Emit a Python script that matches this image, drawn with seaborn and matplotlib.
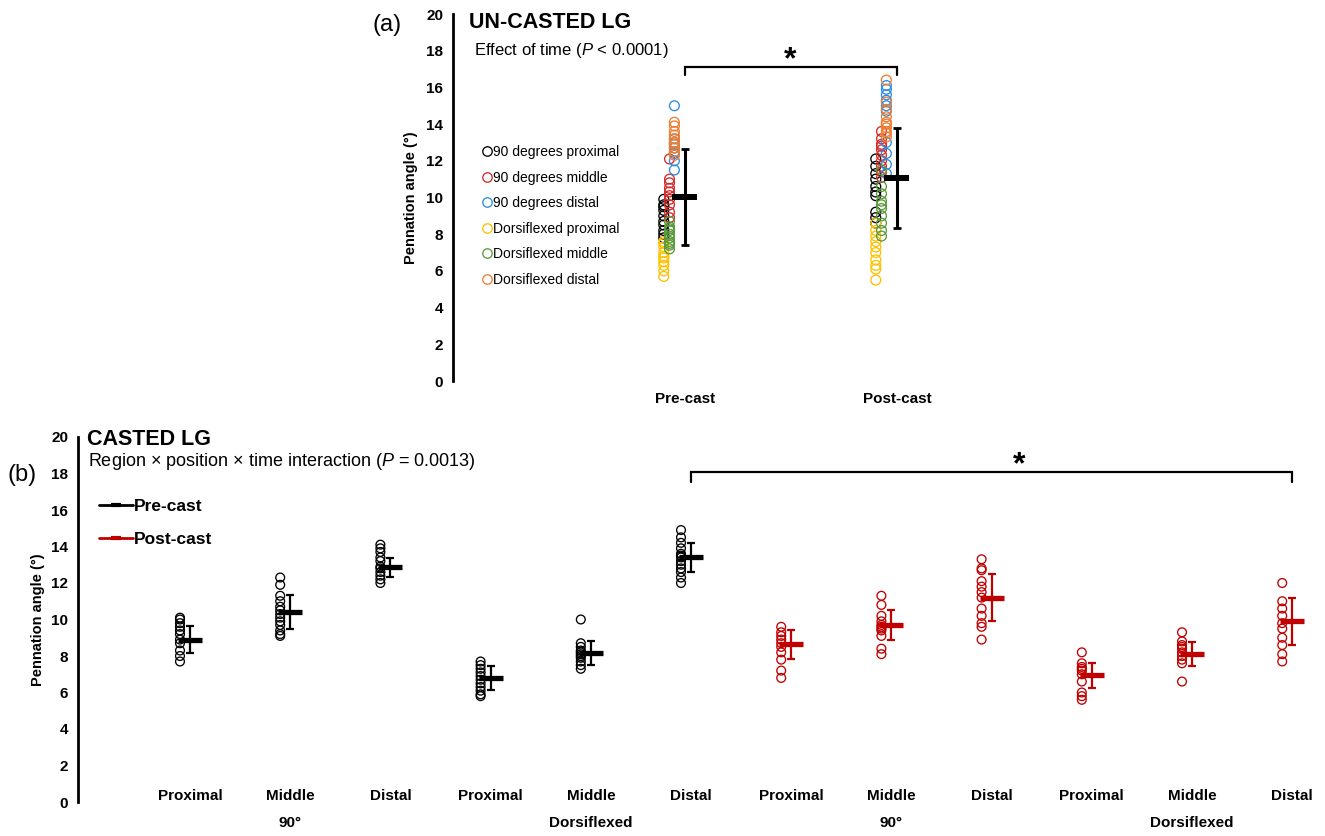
import numpy as np
import pandas as pd
import matplotlib
matplotlib.use("Agg")
import matplotlib.pyplot as plt
from matplotlib.lines import Line2D
import seaborn as sns

sns.set_theme(style="white")
plt.rcParams["font.family"] = ["Liberation Sans", "DejaVu Sans"]
plt.rcParams["mathtext.fontset"] = "custom"
plt.rcParams["mathtext.rm"] = "Liberation Sans"
plt.rcParams["mathtext.it"] = "Liberation Sans:italic"
plt.rcParams["mathtext.bf"] = "Liberation Sans:bold"
for key in ("text.color", "axes.labelcolor", "xtick.color", "ytick.color"):
    plt.rcParams[key] = "black"

# ---------------- (a) un-casted LG ----------------
time_labels = ["Pre-cast", "Post-cast"]
series_names = ["90 degrees proximal", "90 degrees middle", "90 degrees distal",
                "Dorsiflexed proximal", "Dorsiflexed middle", "Dorsiflexed distal"]
series_colors = ["#000000", "#d42a2a", "#2e8be0", "#ffc000", "#5a9a3c", "#ee7d31"]

a_pre_90_proximal = [9.9, 9.6, 9.3, 9.0, 8.7, 8.5, 8.2, 8.0, 7.8, 9.5]
a_pre_90_middle = [12.1, 11.0, 10.8, 10.5, 10.3, 10.1, 9.9, 9.6, 9.2, 8.9]
a_pre_90_distal = [15.0, 13.0, 12.7, 12.4, 12.0, 11.5, 12.9, 13.2]
a_pre_dorsi_proximal = [7.6, 7.3, 7.0, 6.8, 6.5, 6.3, 6.0, 5.7, 7.5, 6.7]
a_pre_dorsi_middle = [8.7, 8.4, 8.2, 8.0, 7.8, 7.6, 7.4, 7.2, 8.3, 7.5]
a_pre_dorsi_distal = [14.1, 13.9, 13.6, 13.4, 13.2, 13.0, 12.7, 12.5, 12.3, 12.9]

a_post_90_proximal = [12.1, 11.7, 11.3, 11.0, 10.6, 10.3, 10.1, 9.2, 8.9, 8.6]
a_post_90_middle = [13.6, 13.2, 12.9, 12.6, 12.3, 12.0, 11.7, 11.4, 11.1, 12.8]
a_post_90_distal = [16.1, 15.9, 15.6, 15.3, 15.0, 14.7, 13.0, 12.4, 11.8, 11.3]
a_post_dorsi_proximal = [8.6, 8.2, 7.9, 7.6, 7.3, 7.0, 6.6, 6.3, 6.1, 5.5]
a_post_dorsi_middle = [11.5, 10.6, 10.2, 9.8, 9.4, 9.0, 8.6, 8.2, 7.9, 9.6]
a_post_dorsi_distal = [16.4, 14.8, 14.4, 14.1, 13.8, 13.6, 13.3, 15.2, 14.0, 13.5]

a_mean = [10.03, 11.06]
a_sd = [2.60, 2.72]

# ---------------- (b) casted LG ----------------
b_regions = ["Proximal", "Middle", "Distal"] * 4
b_positions = ["90°", "Dorsiflexed", "90°", "Dorsiflexed"]
b_times = ["Pre-cast", "Post-cast"]
b_colors = ["#000000", "#c00000"]

b_pre_90_proximal = [10.1, 10.0, 9.8, 9.6, 9.4, 9.2, 8.9, 8.7, 8.3, 8.0, 7.7]
b_pre_90_middle = [12.3, 11.9, 11.3, 11.0, 10.7, 10.5, 10.3, 10.1, 9.9, 9.7, 9.4, 9.2, 9.1]
b_pre_90_distal = [14.1, 13.9, 13.7, 13.4, 13.2, 12.9, 12.8, 12.6, 12.4, 12.2, 12.0]
b_pre_dorsi_proximal = [7.7, 7.5, 7.3, 6.9, 6.7, 6.5, 6.3, 6.1, 5.9, 5.8, 7.1]
b_pre_dorsi_middle = [10.0, 8.7, 8.5, 8.3, 8.1, 7.9, 7.7, 7.5, 7.3, 8.2, 8.0]
b_pre_dorsi_distal = [14.9, 14.5, 14.2, 13.9, 13.6, 13.4, 13.2, 13.0, 12.8, 12.6, 12.3, 12.0, 13.5]

b_post_90_proximal = [9.6, 9.3, 9.1, 8.9, 8.7, 8.5, 8.2, 7.8, 7.2, 6.8]
b_post_90_middle = [11.3, 10.8, 10.2, 9.9, 9.6, 9.4, 9.1, 8.4, 8.1, 9.7, 9.5]
b_post_90_distal = [13.3, 12.8, 12.7, 12.1, 11.8, 11.5, 11.2, 10.6, 10.2, 9.8, 9.6, 8.9]
b_post_dorsi_proximal = [8.2, 7.6, 7.4, 7.2, 7.0, 6.6, 6.0, 5.8, 5.6, 7.3]
b_post_dorsi_middle = [9.3, 8.8, 8.6, 8.4, 8.2, 8.0, 7.8, 7.6, 6.6, 8.5]
b_post_dorsi_distal = [12.0, 11.0, 10.6, 10.2, 9.8, 9.5, 9.0, 8.6, 8.1, 7.7]

b_mean = [8.9, 10.4, 12.85, 6.8, 8.15, 13.4, 8.65, 9.7, 11.2, 6.95, 8.1, 9.9]
b_sd = [0.76, 0.94, 0.54, 0.64, 0.66, 0.77, 0.80, 0.84, 1.29, 0.69, 0.64, 1.28]

# ---------------- tidy tables ----------------
a_pre = [a_pre_90_proximal, a_pre_90_middle, a_pre_90_distal,
         a_pre_dorsi_proximal, a_pre_dorsi_middle, a_pre_dorsi_distal]
a_post = [a_post_90_proximal, a_post_90_middle, a_post_90_distal,
          a_post_dorsi_proximal, a_post_dorsi_middle, a_post_dorsi_distal]
a_shift = [-0.100, -0.073, -0.050, -0.100, -0.073, -0.050]

rows = []
for t, block in enumerate([a_pre, a_post]):
    for name, vals, dx in zip(series_names, block, a_shift):
        for v in vals:
            rows.append({"x": t + dx, "angle": v, "series": name})
df_a = pd.DataFrame(rows)

b_groups = [b_pre_90_proximal, b_pre_90_middle, b_pre_90_distal,
            b_pre_dorsi_proximal, b_pre_dorsi_middle, b_pre_dorsi_distal,
            b_post_90_proximal, b_post_90_middle, b_post_90_distal,
            b_post_dorsi_proximal, b_post_dorsi_middle, b_post_dorsi_distal]
rows = []
for i, vals in enumerate(b_groups):
    for v in vals:
        rows.append({"x": i - 0.10, "angle": v, "time": b_times[i // 6]})
df_b = pd.DataFrame(rows)

# ---------------- figure ----------------
W, H = 1325, 836
fig = plt.figure(figsize=(W / 100, H / 100), dpi=100)


def fx(x):
    return x / W


def fy(y):
    return 1 - y / H


ax_a = fig.add_axes([fx(453), fy(381), 547 / W, 367 / H])
ax_b = fig.add_axes([fx(78), fy(802), 1242 / W, 365 / H])

for ax in (ax_a, ax_b):
    for side in ("top", "right", "bottom"):
        ax.spines[side].set_visible(False)
    ax.spines["left"].set_linewidth(2.0)
    ax.spines["left"].set_color("black")
    ax.set_ylim(0, 20)
    ax.set_yticks(np.arange(0, 21, 2))
    ax.tick_params(axis="y", length=0, pad=7, labelsize=11)
    ax.tick_params(axis="x", length=0)
    for lab in ax.get_yticklabels():
        lab.set_fontweight("bold")
    ax.set_facecolor("none")
    ax.grid(False)

# ---- panel (a)
ax_a.set_xlim(-1.0943, 1.486)
palette_a = dict(zip(series_names, series_colors))
for name in series_names:
    sub = df_a[df_a["series"] == name]
    sns.scatterplot(data=sub, x="x", y="angle", ax=ax_a, marker="o", s=50,
                    color=palette_a[name], facecolor="none",
                    edgecolor=palette_a[name], linewidth=0.95, legend=False,
                    zorder=2)
ax_a.errorbar([0, 1], a_mean, yerr=a_sd, fmt="none", ecolor="black",
              elinewidth=2.2, capsize=3.0, capthick=2.0, zorder=4)
ax_a.hlines(a_mean, [-0.059, 0.941], [0.059, 1.059], colors="black",
            linewidth=4.3, zorder=5)
ax_a.set_xticks([0, 1])
ax_a.set_xticklabels(time_labels, fontsize=11, fontweight="bold")
ax_a.tick_params(axis="x", pad=8)
ax_a.set_xlabel("")
ax_a.set_ylabel("Pennation angle (°)", fontsize=10.5, fontweight="bold")
ax_a.yaxis.set_label_coords(-0.064, 0.5)

# significance bracket (a)
ax_a.plot([0, 0, 1, 1], [16.68, 17.11, 17.11, 16.68], color="black",
          linewidth=1.6, clip_on=False, solid_joinstyle="miter")
ax_a.text(0.495, 17.5, "*", ha="center", va="center", fontsize=23,
          fontweight="bold")

legend_a = [Line2D([], [], marker="o", linestyle="none", markersize=6.8,
                   markerfacecolor="none", markeredgecolor=c,
                   markeredgewidth=0.95) for c in series_colors]
ax_a.legend(legend_a, series_names, loc="upper left",
            bbox_to_anchor=(fx(483), fy(145)), bbox_transform=fig.transFigure,
            frameon=False, borderpad=0, borderaxespad=0, handlelength=0.55,
            handletextpad=0.2, labelspacing=0.83, fontsize=10)

# ---- panel (b)
ax_b.set_xlim(-1.1178, 11.277)
for t, c in zip(b_times, b_colors):
    sub = df_b[df_b["time"] == t]
    sns.scatterplot(data=sub, x="x", y="angle", ax=ax_b, marker="o", s=40,
                    color=c, facecolor="none", edgecolor=c, linewidth=0.95,
                    legend=False, zorder=2)
xs = np.arange(len(b_mean))
for t, c in enumerate(b_colors):
    sel = slice(6 * t, 6 * t + 6)
    ax_b.errorbar(xs[sel], b_mean[sel], yerr=b_sd[sel], fmt="none", ecolor=c,
                  elinewidth=1.6, capsize=2.6, capthick=1.6, zorder=4)
    ax_b.hlines(b_mean[sel], xs[sel] - 0.12, xs[sel] + 0.12, colors=c,
                linewidth=3.8, zorder=5)
ax_b.set_xticks(xs)
ax_b.set_xticklabels(b_regions, fontsize=11, fontweight="bold")
ax_b.tick_params(axis="x", pad=-9)
ax_b.set_xlabel("")
for k, lab in enumerate(b_positions):
    ax_b.text(3 * k + 1, -0.058, lab, transform=ax_b.get_xaxis_transform(),
              ha="center", va="center", fontsize=11, fontweight="bold")
ax_b.set_ylabel("Pennation angle (°)", fontsize=10.5, fontweight="bold")
ax_b.yaxis.set_label_coords(-0.0266, 0.5)

# significance bracket (b)
ax_b.plot([5, 5, 11, 11], [17.53, 18.08, 18.08, 17.53], color="black",
          linewidth=1.6, clip_on=False, solid_joinstyle="miter")
ax_b.text(8.27, 18.45, "*", ha="center", va="center", fontsize=23,
          fontweight="bold")

legend_b = [Line2D([], [], color=c, linewidth=2.0, marker="_", markersize=7,
                   markeredgewidth=3.0) for c in b_colors]
ax_b.legend(legend_b, b_times, loc="upper left",
            bbox_to_anchor=(fx(99), fy(499)), bbox_transform=fig.transFigure,
            frameon=False, borderpad=0, borderaxespad=0, handlelength=1.95,
            handletextpad=0.08, labelspacing=1.02,
            prop={"size": 12.5, "weight": "bold"})

# ---- panel headers
fig.text(fx(387), fy(25), "(a)", ha="center", va="center", fontsize=17)
fig.text(fx(469), fy(22), "UN-CASTED LG", ha="left", va="center",
         fontsize=15.5, fontweight="bold")
fig.text(fx(474), fy(51), r"Effect of time ($\mathit{P}$ < 0.0001)",
         ha="left", va="center", fontsize=12)
fig.text(fx(22), fy(475), "(b)", ha="center", va="center", fontsize=17)
fig.text(fx(87), fy(439), "CASTED LG", ha="left", va="center",
         fontsize=15.5, fontweight="bold")
fig.text(fx(88), fy(461),
         r"Region × position × time interaction ($\mathit{P}$ = 0.0013)",
         ha="left", va="center", fontsize=13)

fig.savefig("out.png", dpi=100, facecolor="white")
